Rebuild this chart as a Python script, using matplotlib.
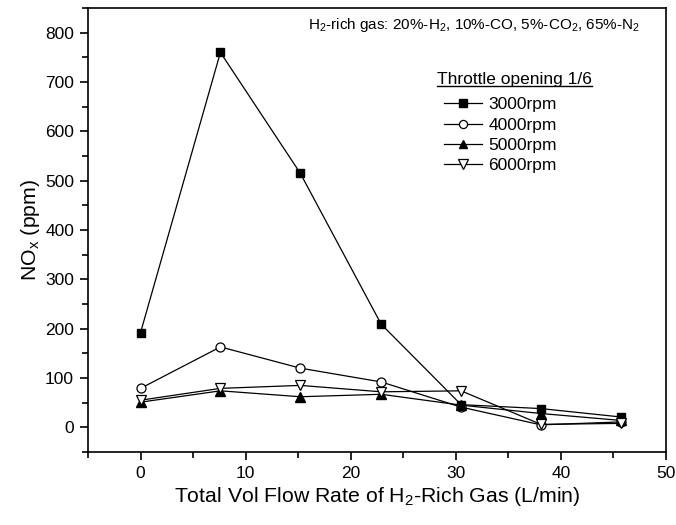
import matplotlib
matplotlib.use('Agg')
import matplotlib.pyplot as plt
from matplotlib.lines import Line2D
from matplotlib.ticker import MultipleLocator

plt.rcParams['font.family'] = ['Liberation Sans', 'DejaVu Sans']
plt.rcParams['mathtext.fontset'] = 'custom'
plt.rcParams['mathtext.rm'] = 'Liberation Sans'
plt.rcParams['mathtext.it'] = 'Liberation Sans'

# 氢气流量 (L/min)
flow = [0, 7.6, 15.2, 22.9, 30.5, 38.1, 45.7]

# NOx 排放 (ppm)
nox_3000 = [192, 760, 515, 209, 46, 38, 21]
nox_4000 = [79, 163, 120, 92, 41, 5, 11]
nox_5000 = [51, 74, 62, 67, 45, 28, 14]
nox_6000 = [55, 79, 85, 72, 74, 6, 8]

labels = ['3000rpm', '4000rpm', '5000rpm', '6000rpm']
xticks = [0, 10, 20, 30, 40, 50]
yticks = [0, 100, 200, 300, 400, 500, 600, 700, 800]

fig = plt.figure(figsize=(6.76, 5.25), dpi=100)
ax = fig.add_axes([88 / 676, 1 - 452 / 525, (666 - 88) / 676, (452 - 8) / 525])

styles = [
    dict(marker='s', mfc='black', mec='black', ms=5.8),
    dict(marker='o', mfc='white', mec='black', ms=6.5, mew=0.9),
    dict(marker='^', mfc='black', mec='black', ms=7),
    dict(marker='v', mfc='white', mec='black', ms=7.5, mew=0.9),
]
series = [nox_3000, nox_4000, nox_5000, nox_6000]
handles = []
for y, st, lab in zip(series, styles, labels):
    h, = ax.plot(flow, y, color='black', lw=0.9, label=lab, **st)
    handles.append(h)

ax.set_xlim(-5, 50)
ax.set_ylim(-50, 850)
ax.set_xticks(xticks)
ax.set_yticks(yticks)
ax.xaxis.set_minor_locator(MultipleLocator(5))
ax.yaxis.set_minor_locator(MultipleLocator(50))
ax.tick_params(which='both', direction='out', width=1.2, top=False, right=False)
ax.tick_params(which='major', length=6, labelsize=12.5, pad=4)
ax.tick_params(which='minor', length=4)
for sp in ax.spines.values():
    sp.set_linewidth(1.2)

ax.set_xlabel(r'Total Vol Flow Rate of H$_2$-Rich Gas (L/min)', fontsize=15.3, labelpad=3)
ax.set_ylabel(r'NO$_x$ (ppm)', fontsize=15.3, labelpad=2)

ax.text(0.955, 0.962, r'H$_2$-rich gas: 20%-H$_2$, 10%-CO, 5%-CO$_2$, 65%-N$_2$',
        transform=ax.transAxes, ha='right', va='center', fontsize=11)

leg = ax.legend(handles=handles, loc='upper left', bbox_to_anchor=(0.604, 0.815),
                frameon=False, fontsize=12.5, handlelength=2.2, handletextpad=0.35,
                labelspacing=0.3, borderaxespad=0, markerscale=0.9)

# 图例标题加下划线
title = ax.text(0.604, 0.838, 'Throttle opening 1/6', transform=ax.transAxes,
                ha='left', va='center', fontsize=12.5)
fig.canvas.draw()
bb = title.get_window_extent().transformed(fig.transFigure.inverted())
fig.add_artist(Line2D([bb.x0, bb.x1], [bb.y0 + 0.002, bb.y0 + 0.002],
                      transform=fig.transFigure, color='black', lw=1))

fig.savefig('out.png', dpi=100)
